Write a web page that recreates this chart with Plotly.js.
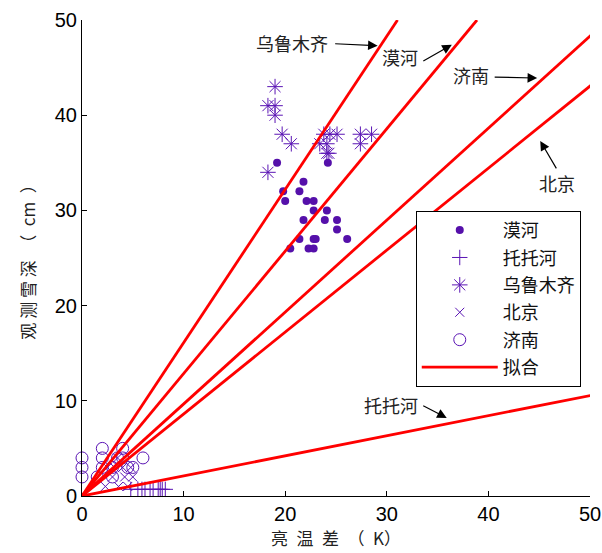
<!DOCTYPE html>
<html><head><meta charset="utf-8">
<script src="https://cdn.plot.ly/plotly-3.0.1.min.js"></script>
<style>html,body{margin:0;padding:0;background:#fff}</style>
</head><body>
<div id="chart" style="width:602px;height:553px"></div>
<script>
// 漠河
const moheX = [19.2,24.2,21.8,19.8,21.4,20.0,22.1,22.8,22.8,24.1,21.8,23.9,25.1,25.1,21.4,22.8,23.0,26.1,20.5,22.3,22.8];
const moheY = [35,35,33,32,32,31,31,31,30,30,29,29,29,28,27,27,27,27,26,26,26];
// 托托河
const tuotuoheX = [4.8,5.5,5.9,6.2,6.7,7.0,7.5,7.7,7.9,8.2];
const tuotuoheY = [0.7,0.7,0.7,0.7,0.7,0.7,0.7,0.7,0.7,0.7];
// 乌鲁木齐
const wulumuqiX = [19.0,18.3,19.0,19.0,19.7,20.6,18.3,23.8,24.4,25.1,23.4,24.1,24.1,24.3,27.4,28.5,27.4];
const wulumuqiY = [43,41,41,40,38,37,34,38,38,38,37,37,36,36,38,38,37];
// 北京
const beijingX = [2.3,3.6,4.2,3.0,4.0,2.5,3.5,4.5,5.0,3.2,4.8];
const beijingY = [1,1,2,2,3,3,4,1,2,3,3];
// 济南
const jinanX = [0,0,0,2,2,2,4,4,6,3,4.5,3,1.5,3.5,5];
const jinanY = [2,3,4,5,4,3,5,4,4,2,3,3,2,4,3];
// fitted slopes (through origin)
const fitNames = ['乌鲁木齐','漠河','济南','北京','托托河'];
const fitSlopes = [1.61,1.286,0.966,0.861,0.211];
const xMax = 50.5, yMax = 50;

const purple = '#5a14b4';
const cjk = '"Noto Sans CJK SC", sans-serif';
const traces = [];
function sc(name, x, y, marker){
  traces.push({type:'scatter', mode:'markers', name:name, x:x, y:y, marker:marker,
    legendgroup:name, cliponaxis:false});
}
sc('漠河', moheX, moheY, {symbol:'circle', size:8, color:'#5510aa'});
sc('托托河', tuotuoheX, tuotuoheY, {symbol:'cross-thin-open', size:11, color:purple, line:{width:1, color:purple}});
sc('乌鲁木齐', wulumuqiX, wulumuqiY, {symbol:'asterisk-open', size:13, color:purple, line:{width:1, color:purple}});
sc('北京', beijingX, beijingY, {symbol:'x-thin-open', size:9, color:purple, line:{width:1, color:purple}});
sc('济南', jinanX, jinanY, {symbol:'circle-open', size:12, color:purple, line:{width:1, color:purple}});
fitSlopes.forEach((k,i)=>{
  const xe = Math.min(xMax, yMax/k);
  traces.push({type:'scatter', mode:'lines', name:'拟合', x:[0,xe], y:[0,k*xe],
    line:{color:'#ff0000', width:2.8}, legendgroup:'fit', showlegend:i===0, hoverinfo:'skip'});
});

const ann = [];
function label(text, x, y){ ann.push({x:x,y:y,text:text,showarrow:false,font:{family:cjk,size:18,color:'#222'}}); }
function arrow(x, y, ax, ay){ ann.push({x:x,y:y,ax:ax,ay:ay,text:'',showarrow:true,arrowhead:2,arrowsize:1.6,arrowwidth:1.2,arrowcolor:'#000'}); }
label('乌鲁木齐', 20.7, 47.6); arrow(29.1, 47.3, -44, -2);
label('漠河', 31.3, 46.1); arrow(36.4, 47.4, -30, 17);
label('济南', 38.3, 44.2); arrow(44.8, 43.9, -44, -1);
label('北京', 46.8, 32.9); arrow(45.1, 37.3, 17, 29);
label('托托河', 30.4, 9.6); arrow(35.9, 8.2, -25, -13);

const sp = '\u2002';
const layout = {
  width:602, height:553,
  margin:{l:82, r:12, t:20, b:57},
  paper_bgcolor:'#fff', plot_bgcolor:'#fff',
  showlegend:true,
  xaxis:{range:[0,50], tickvals:[0,10,20,30,40,50], ticks:'inside', ticklen:5, tickcolor:'#000',
    showline:true, linecolor:'#000', linewidth:1, mirror:false, showgrid:false, zeroline:false,
    tickfont:{family:'Arial, "Liberation Sans", sans-serif', size:20, color:'#000'},
    title:{text:'亮'+sp+'温'+sp+'差'+sp+'（'+sp+'K）', font:{family:cjk, size:17, color:'#222'}, standoff:6}},
  yaxis:{range:[0,50], tickvals:[0,10,20,30,40,50], ticks:'inside', ticklen:5, tickcolor:'#000',
    showline:true, linecolor:'#000', linewidth:1, mirror:false, showgrid:false, zeroline:false,
    tickfont:{family:'Arial, "Liberation Sans", sans-serif', size:20, color:'#000'},
    title:{text:'观 测 雪 深'+sp+'（'+sp+'cm'+sp+'）', font:{family:cjk, size:17, color:'#222'}, standoff:14}},
  legend:{x:0.657, y:0.599, xanchor:'left', yanchor:'top', bgcolor:'#fff', bordercolor:'#000', borderwidth:1,
    font:{family:cjk, size:18, color:'#111'}, itemwidth:76, tracegroupgap:1, traceorder:'grouped'},
  annotations:ann
};
Plotly.newPlot('chart', traces, layout, {staticPlot:true, displayModeBar:false});
</script>
</body></html>
